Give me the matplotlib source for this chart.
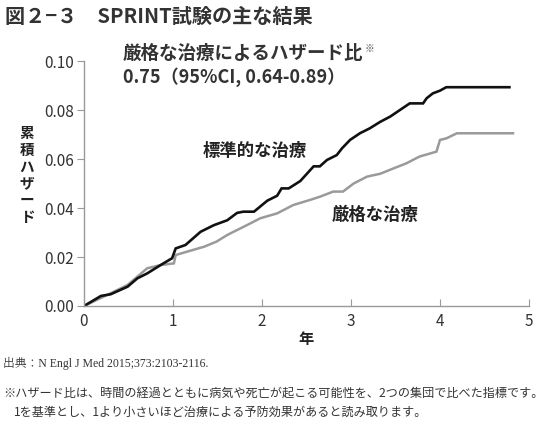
import matplotlib
matplotlib.use("Agg")
import matplotlib.pyplot as plt

plt.rcParams['font.family'] = ['Noto Sans CJK JP', 'DejaVu Sans']

# Standard treatment (black)
std_years = [0, 0.19, 0.30, 0.49, 0.60, 0.71, 0.86, 0.99, 1.03, 1.14, 1.31, 1.46, 1.61, 1.72,
             1.79, 1.91, 2.06, 2.17, 2.22, 2.30, 2.43, 2.58, 2.65, 2.73, 2.84, 2.90, 2.99,
             3.10, 3.21, 3.33, 3.44, 3.55, 3.66, 3.81, 3.85, 3.92, 4.00, 4.07, 4.78]
std_vals = [0, 0.0041, 0.0048, 0.0079, 0.0113, 0.0133, 0.0167, 0.0195, 0.0235, 0.0249, 0.0303,
            0.0330, 0.0350, 0.0380, 0.0385, 0.0385, 0.0430, 0.0450, 0.0480, 0.0480, 0.0510,
            0.0570, 0.0570, 0.0596, 0.0616, 0.0644, 0.0678, 0.0705, 0.0725, 0.0752, 0.0773,
            0.0800, 0.0827, 0.0827, 0.0848, 0.0868, 0.0879, 0.0893, 0.0893]

# Intensive treatment (gray)
int_years = [0, 0.30, 0.49, 0.71, 0.86, 1.01, 1.03, 1.16, 1.35, 1.49, 1.61, 1.72, 1.83, 1.98,
             2.17, 2.35, 2.54, 2.65, 2.80, 2.91, 3.03, 3.18, 3.33, 3.48, 3.62, 3.77, 3.96,
             4.00, 4.07, 4.19, 4.82]
int_vals = [0, 0.0052, 0.0086, 0.0154, 0.0167, 0.0174, 0.0208, 0.0222, 0.0242, 0.0263, 0.0290,
            0.0310, 0.0330, 0.0358, 0.0378, 0.0412, 0.0433, 0.0446, 0.0467, 0.0467, 0.0500,
            0.0528, 0.0540, 0.0562, 0.0582, 0.0610, 0.0630, 0.0678, 0.0684, 0.0705, 0.0705]

x_ticks = [0, 1, 2, 3, 4, 5]
y_ticks = [0.00, 0.02, 0.04, 0.06, 0.08, 0.10]

fig = plt.figure(figsize=(5.5, 4.26), dpi=100)
ax = fig.add_axes([84/550, 1-306/426, 445/550, 245/426])

ax.plot(int_years, int_vals, color='#9a9a9a', lw=1.8, solid_joinstyle='miter')
ax.plot(std_years, std_vals, color='#111111', lw=1.9, solid_joinstyle='miter')

ax.set_xlim(0, 5)
ax.set_ylim(0, 0.10)
ax.set_xticks(x_ticks)
ax.set_yticks(y_ticks)
ax.set_xticklabels([str(v) for v in x_ticks])
ax.set_yticklabels([f"{v:.2f}" for v in y_ticks])
for s in ['top', 'right']:
    ax.spines[s].set_visible(False)
for s in ['left', 'bottom']:
    ax.spines[s].set_color('#999999')
    ax.spines[s].set_linewidth(1.0)
ax.tick_params(axis='y', direction='out', length=5, color='#999999', labelsize=11,
               labelcolor='#333333', pad=2)
ax.tick_params(axis='x', direction='in', length=5, color='#999999', labelsize=11,
               labelcolor='#333333', pad=5)
ax.set_xlabel('年', fontsize=11, fontweight='bold', color='#222222', labelpad=1)

fig.text(27/550, 1-175/426, "\n".join("累積ハザード"), fontsize=10.5, fontweight='bold',
         color='#222222', ha='center', va='center', linespacing=1.05)

fig.text(255/550, 1-151/426, '標準的な治療', fontsize=12.5, color='#222222',
         ha='center', va='center', fontweight='bold')
fig.text(375/550, 1-215/426, '厳格な治療', fontsize=12.5, color='#222222',
         ha='center', va='center', fontweight='bold')

t1 = fig.text(123/550, 1-53/426, '厳格な治療によるハザード比', fontsize=13.3, color='#333333',
              ha='left', va='center', fontweight='bold')
fig.canvas.draw()
bb = t1.get_window_extent()
fig.text((bb.x1 + 1) / 550, (bb.y1 - 1) / 426, '※', fontsize=7, color='#555555',
         ha='left', va='top')
fig.text(123/550, 1-77/426, '0.75（95%CI, 0.64-0.89）', fontsize=13, color='#333333',
         ha='left', va='center', fontweight='bold')

fig.text(5/550, 1-16/426, '図２−３　SPRINT試験の主な結果', fontsize=14.5, color='#333333',
         ha='left', va='center', fontweight='bold')

fig.text(3/550, 1-363/426, '出典：N Engl J Med 2015;373:2103-2116.', fontsize=8.5,
         color='#333333', ha='left', va='center',
         family=['Liberation Serif', 'Noto Serif CJK JP', 'Noto Sans CJK JP'])
fig.text(3/550, 1-394/426,
         '※ハザード比は、時間の経過とともに病気や死亡が起こる可能性を、2つの集団で比べた指標です。',
         fontsize=8.7, color='#333333', ha='left', va='center')
fig.text(14/550, 1-412/426,
         '1を基準とし、1より小さいほど治療による予防効果があると読み取ります。',
         fontsize=8.7, color='#333333', ha='left', va='center')

fig.savefig('out.png', dpi=100, facecolor='white')
